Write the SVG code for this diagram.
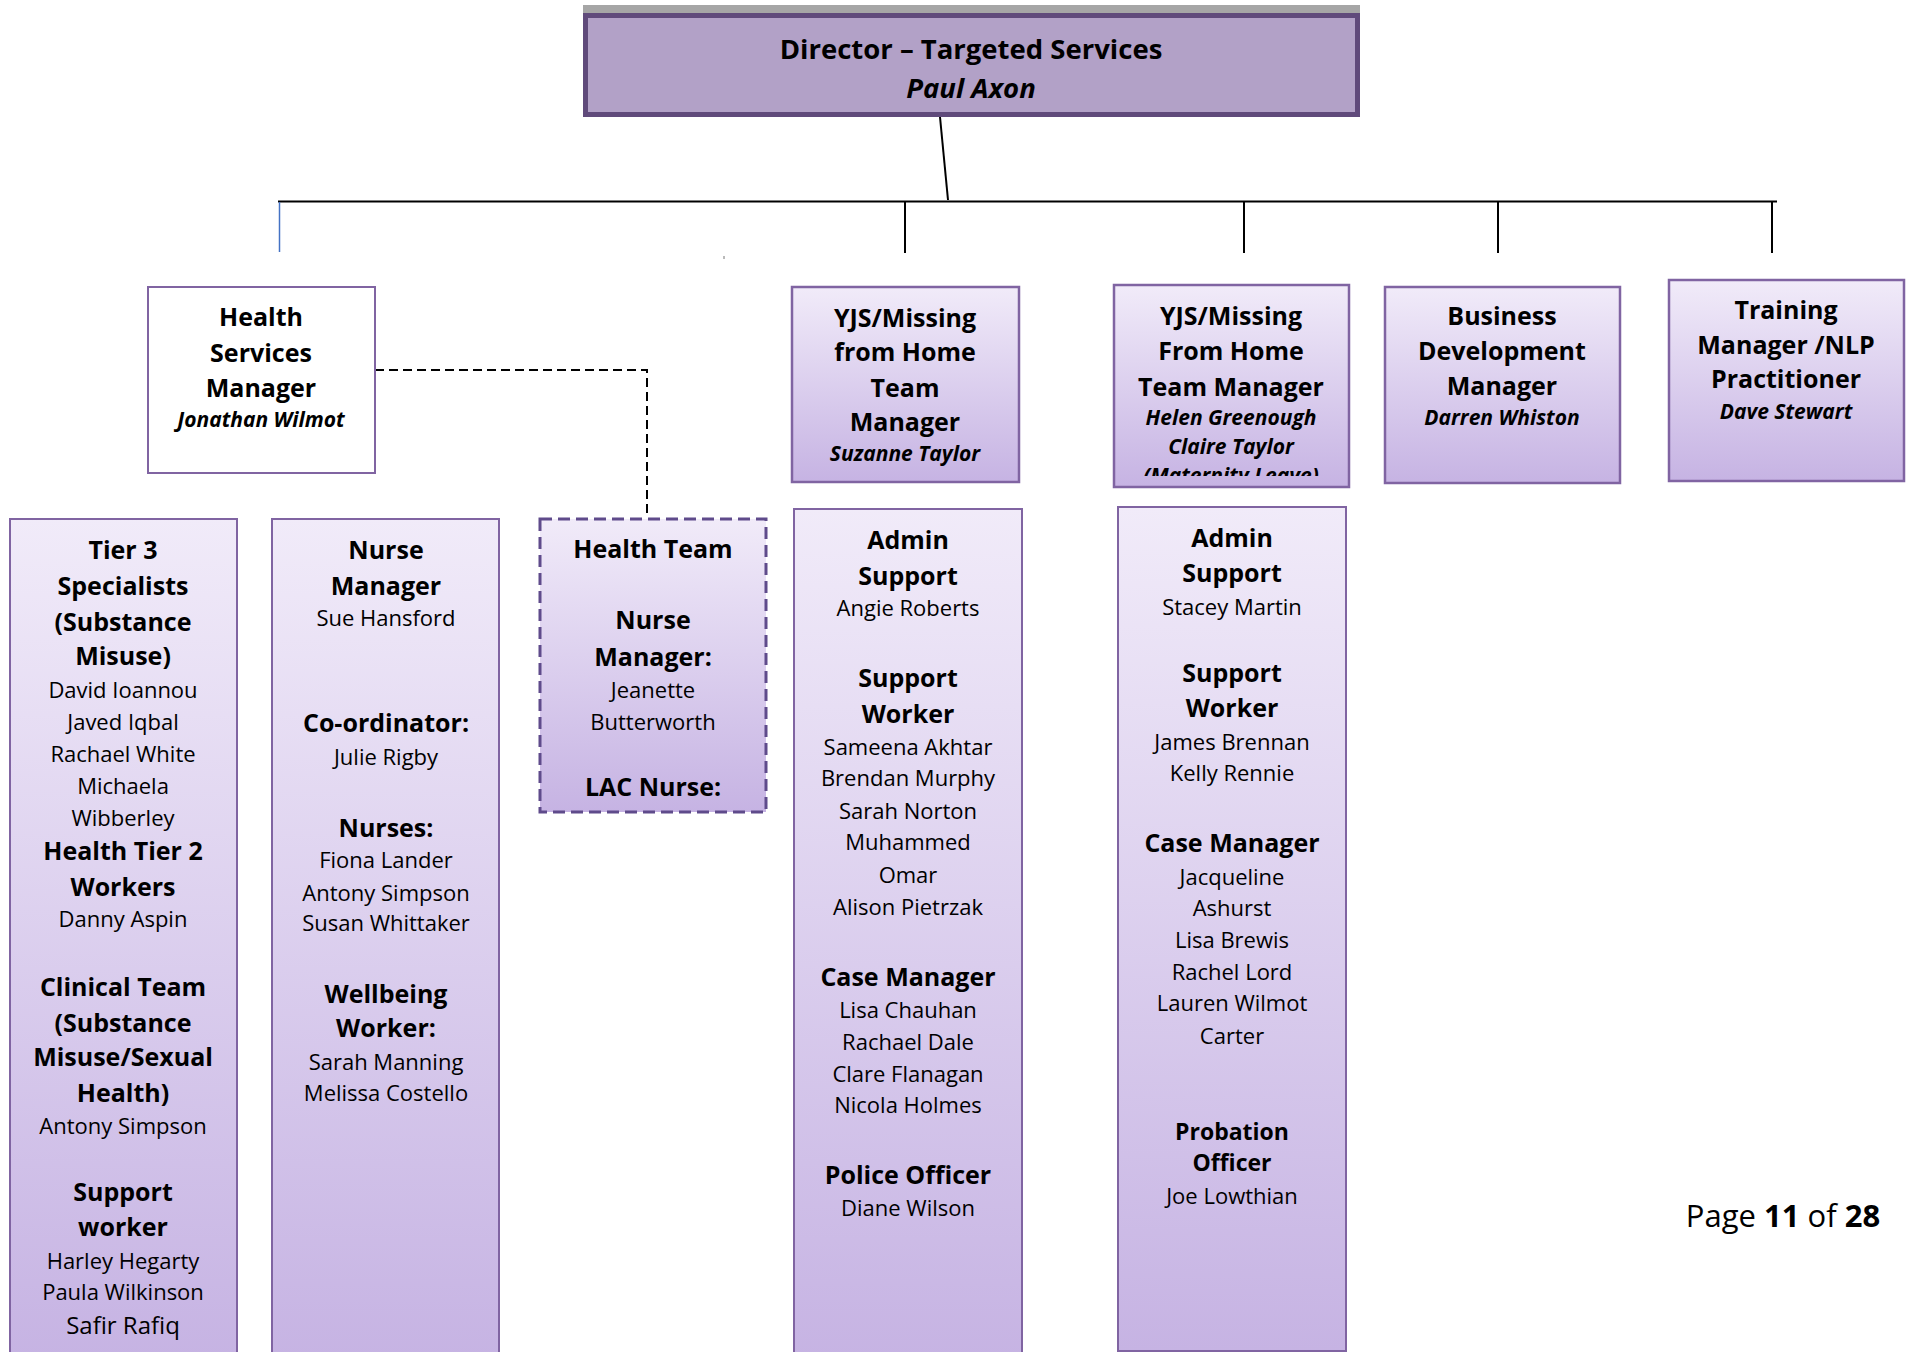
<svg xmlns="http://www.w3.org/2000/svg" width="1910" height="1352" viewBox="0 0 1910 1352">
<style>
text{font-family:"Open Sans","Noto Sans","DejaVu Sans",sans-serif;text-anchor:middle;fill:#000}
.b{font-weight:bold;font-size:25px}
.bs{font-weight:bold;font-size:23px}
.r{font-size:22px}
.i{font-weight:bold;font-style:italic;font-size:21px}
.t{font-weight:bold;font-size:27.5px}
.box{fill:url(#g);stroke:#8064A2;stroke-width:2}
.tbox{fill:url(#g);stroke:#8064A2;stroke-width:2.5}
.conn{stroke:#000;stroke-width:2;fill:none}
</style>
<defs>
<linearGradient id="g" x1="0" y1="0" x2="0" y2="1">
<stop offset="0" stop-color="#F1EBF9"/>
<stop offset="1" stop-color="#C6B3E3"/>
</linearGradient>
<clipPath id="clipYJS2"><rect x="1113" y="284" width="236" height="192"/></clipPath>
</defs>
<rect width="1910" height="1352" fill="#fff"/>

<g id="connectors">
<line class="conn" x1="940" y1="117" x2="948" y2="200"/>
<line class="conn" x1="278" y1="201.5" x2="1777" y2="201.5"/>
<line x1="279.5" y1="202" x2="279.5" y2="252" stroke="#4472C4" stroke-width="1.5"/>
<line class="conn" x1="905" y1="202" x2="905" y2="253" stroke-width="1.5"/>
<line class="conn" x1="1244" y1="202" x2="1244" y2="253" stroke-width="1.5"/>
<line class="conn" x1="1498" y1="202" x2="1498" y2="253" stroke-width="1.5"/>
<line class="conn" x1="1772" y1="202" x2="1772" y2="253" stroke-width="1.5"/>
<line x1="724" y1="256" x2="724" y2="259" stroke="#777" stroke-width="1"/>
<path d="M375,370 H647 V518" fill="none" stroke="#000" stroke-width="2" stroke-dasharray="9 5"/>
</g>

<g id="director">
<rect x="583" y="5" width="777" height="9" fill="#A6A6A6"/>
<rect x="585.5" y="15.5" width="772" height="99" fill="#B2A1C7" stroke="#604A7B" stroke-width="5"/>
<text class="t" x="971" y="59">Director – Targeted Services</text>
<text x="971" y="98" style="font-weight:bold;font-style:italic;font-size:27.5px">Paul Axon</text>
</g>

<g id="health-services-manager">
<rect x="148" y="287" width="227" height="186" fill="#fff" stroke="#8064A2" stroke-width="2"/>
<text class="b" x="261" y="326">Health</text>
<text class="b" x="261" y="362">Services</text>
<text class="b" x="261" y="397">Manager</text>
<text class="i" x="261" y="427">Jonathan Wilmot</text>
</g>

<g id="yjs-manager-1">
<rect class="tbox" x="792" y="287" width="227" height="195"/>
<text class="b" x="905" y="327">YJS/Missing</text>
<text class="b" x="905" y="361">from Home</text>
<text class="b" x="905" y="397">Team</text>
<text class="b" x="905" y="431">Manager</text>
<text class="i" x="905" y="461">Suzanne Taylor</text>
</g>

<g id="yjs-manager-2">
<rect class="tbox" x="1114" y="285" width="235" height="202"/>
<g clip-path="url(#clipYJS2)">
<text class="b" x="1231" y="325">YJS/Missing</text>
<text class="b" x="1231" y="360">From Home</text>
<text class="b" x="1231" y="396">Team Manager</text>
<text class="i" x="1231" y="425">Helen Greenough</text>
<text class="i" x="1231" y="454">Claire Taylor</text>
<text class="i" x="1231" y="483">(Maternity Leave)</text>
</g>
</g>

<g id="business-development-manager">
<rect class="tbox" x="1385" y="287" width="235" height="196"/>
<text class="b" x="1502" y="325">Business</text>
<text class="b" x="1502" y="360">Development</text>
<text class="b" x="1502" y="395">Manager</text>
<text class="i" x="1502" y="425">Darren Whiston</text>
</g>

<g id="training-manager">
<rect class="tbox" x="1669" y="280" width="235" height="201"/>
<text class="b" x="1786" y="319">Training</text>
<text class="b" x="1786" y="354">Manager /NLP</text>
<text class="b" x="1786" y="388">Practitioner</text>
<text class="i" x="1786" y="419">Dave Stewart</text>
</g>

<g id="tier3-specialists">
<rect class="box" x="10" y="519" width="227" height="840"/>
<text class="b" x="123" y="559">Tier 3</text>
<text class="b" x="123" y="595">Specialists</text>
<text class="b" x="123" y="631">(Substance</text>
<text class="b" x="123" y="665">Misuse)</text>
<text class="r" x="123" y="698">David Ioannou</text>
<text class="r" x="123" y="730">Javed Iqbal</text>
<text class="r" x="123" y="762">Rachael White</text>
<text class="r" x="123" y="794">Michaela</text>
<text class="r" x="123" y="826">Wibberley</text>
<text class="b" x="123" y="860">Health Tier 2</text>
<text class="b" x="123" y="896">Workers</text>
<text class="r" x="123" y="927">Danny Aspin</text>
<text class="b" x="123" y="996">Clinical Team</text>
<text class="b" x="123" y="1032">(Substance</text>
<text class="b" x="123" y="1066">Misuse/Sexual</text>
<text class="b" x="123" y="1102">Health)</text>
<text class="r" x="123" y="1134">Antony Simpson</text>
<text class="b" x="123" y="1201">Support</text>
<text class="b" x="123" y="1236">worker</text>
<text class="r" x="123" y="1269">Harley Hegarty</text>
<text class="r" x="123" y="1300">Paula Wilkinson</text>
<text class="r" x="123" y="1334" style="font-size:24px">Safir Rafiq</text>
</g>

<g id="nurse-manager">
<rect class="box" x="272" y="519" width="227" height="840"/>
<text class="b" x="386" y="559">Nurse</text>
<text class="b" x="386" y="595">Manager</text>
<text class="r" x="386" y="626">Sue Hansford</text>
<text class="b" x="386" y="732">Co-ordinator:</text>
<text class="r" x="386" y="765">Julie Rigby</text>
<text class="b" x="386" y="837">Nurses:</text>
<text class="r" x="386" y="868">Fiona Lander</text>
<text class="r" x="386" y="901">Antony Simpson</text>
<text class="r" x="386" y="931">Susan Whittaker</text>
<text class="b" x="386" y="1003">Wellbeing</text>
<text class="b" x="386" y="1037">Worker:</text>
<text class="r" x="386" y="1070">Sarah Manning</text>
<text class="r" x="386" y="1101">Melissa Costello</text>
</g>

<g id="health-team">
<rect x="540" y="519" width="226" height="293" fill="url(#g)" stroke="#5F4B8B" stroke-width="3" stroke-dasharray="12 6"/>
<text class="b" x="653" y="558">Health Team</text>
<text class="b" x="653" y="629">Nurse</text>
<text class="b" x="653" y="666">Manager:</text>
<text class="r" x="653" y="698">Jeanette</text>
<text class="r" x="653" y="730">Butterworth</text>
<text class="b" x="653" y="796">LAC Nurse:</text>
</g>

<g id="yjs-team-1">
<rect class="box" x="794" y="509" width="228" height="850"/>
<text class="b" x="908" y="549">Admin</text>
<text class="b" x="908" y="585">Support</text>
<text class="r" x="908" y="616">Angie Roberts</text>
<text class="b" x="908" y="687">Support</text>
<text class="b" x="908" y="723">Worker</text>
<text class="r" x="908" y="755">Sameena Akhtar</text>
<text class="r" x="908" y="786">Brendan Murphy</text>
<text class="r" x="908" y="819">Sarah Norton</text>
<text class="r" x="908" y="850">Muhammed</text>
<text class="r" x="908" y="883">Omar</text>
<text class="r" x="908" y="915">Alison Pietrzak</text>
<text class="b" x="908" y="986">Case Manager</text>
<text class="r" x="908" y="1018">Lisa Chauhan</text>
<text class="r" x="908" y="1050">Rachael Dale</text>
<text class="r" x="908" y="1082">Clare Flanagan</text>
<text class="r" x="908" y="1113">Nicola Holmes</text>
<text class="b" x="908" y="1184">Police Officer</text>
<text class="r" x="908" y="1216">Diane Wilson</text>
</g>

<g id="yjs-team-2">
<rect class="box" x="1118" y="507" width="228" height="844"/>
<text class="b" x="1232" y="547">Admin</text>
<text class="b" x="1232" y="582">Support</text>
<text class="r" x="1232" y="615">Stacey Martin</text>
<text class="b" x="1232" y="682">Support</text>
<text class="b" x="1232" y="717">Worker</text>
<text class="r" x="1232" y="750">James Brennan</text>
<text class="r" x="1232" y="781">Kelly Rennie</text>
<text class="b" x="1232" y="852">Case Manager</text>
<text class="r" x="1232" y="885">Jacqueline</text>
<text class="r" x="1232" y="916">Ashurst</text>
<text class="r" x="1232" y="948">Lisa Brewis</text>
<text class="r" x="1232" y="980">Rachel Lord</text>
<text class="r" x="1232" y="1011">Lauren Wilmot</text>
<text class="r" x="1232" y="1044">Carter</text>
<text class="bs" x="1232" y="1140">Probation</text>
<text class="bs" x="1232" y="1171">Officer</text>
<text class="r" x="1232" y="1204">Joe Lowthian</text>
</g>

<g id="page-number">
<text x="1783" y="1227" style="font-size:31px">Page <tspan font-weight="bold">11</tspan> of <tspan font-weight="bold">28</tspan></text>
</g>
</svg>
